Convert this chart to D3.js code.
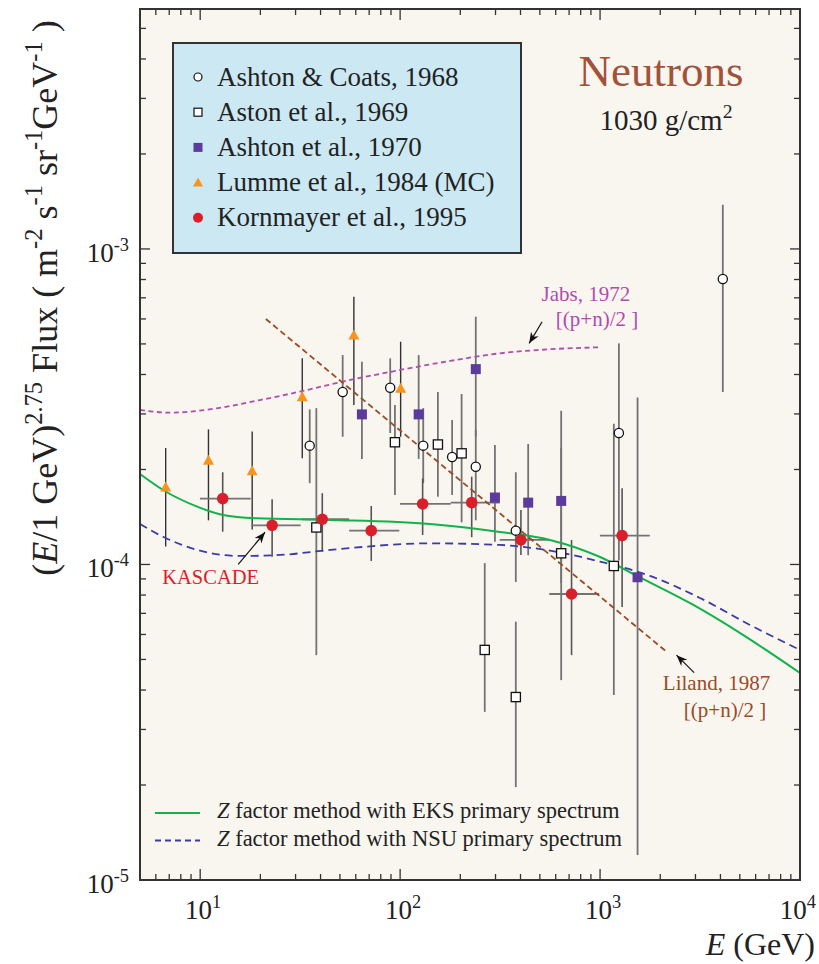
<!DOCTYPE html>
<html><head><meta charset="utf-8">
<script src="https://cdn.jsdelivr.net/npm/d3@7"></script>
<style>
body{margin:0;background:#fff;}
svg{display:block;}
</style>
</head><body>
<svg id="chart" width="819" height="964" font-family="'Liberation Serif','DejaVu Serif','Times New Roman',serif" style="white-space:pre"></svg>
<script>
// ---------------- DATA ----------------
// [E (GeV), flux, flux low, flux high]
const ashtonCoats1968 = [
  [35.3, 2.38e-4, 1.81e-4, 3.10e-4],
  [51.6, 3.52e-4, 2.54e-4, 4.61e-4],
  [89.2, 3.63e-4, 2.61e-4, 4.50e-4],
  [130.5, 2.38e-4, 1.81e-4, 3.13e-4],
  [182, 2.19e-4, 1.66e-4, 2.87e-4],
  [239, 2.04e-4, 1.38e-4, 2.67e-4],
  [379, 1.28e-4, 8.8e-5, 1.96e-4],
  [1242, 2.61e-4, 1.03e-4, 5.02e-4],
  [4111, 8.03e-4, 3.52e-4, 1.38e-3]
];
const aston1969 = [
  [38.1, 1.31e-4, 5.16e-5, 3.13e-4],
  [94.2, 2.44e-4, 1.66e-4, 3.20e-4],
  [154.5, 2.40e-4, 1.64e-4, 3.52e-4],
  [203, 2.25e-4, 1.36e-4, 3.47e-4],
  [265, 5.36e-5, 3.41e-5, 1.01e-4],
  [379, 3.80e-5, 1.97e-5, 6.59e-5],
  [639, 1.085e-4, 4.3e-5, 2.34e-4],
  [1172, 9.89e-5, 3.86e-5, 2.79e-4]
];
const ashton1970 = [
  [64.4, 2.99e-4, 2.16e-4, 4.39e-4],
  [123.8, 2.99e-4, 2.16e-4, 4.61e-4],
  [239, 4.16e-4, 2.54e-4, 6.10e-4],
  [298, 1.63e-4, 1.18e-4, 2.39e-4],
  [437, 1.57e-4, 1.07e-4, 2.41e-4],
  [639, 1.59e-4, 8.74e-5, 3.07e-4],
  [1540, 9.11e-5, 1.2e-5, 3.38e-4]
];
const lumme1984 = [
  [6.72, 1.76e-4, 1.14e-4, 2.34e-4],
  [11.0, 2.14e-4, 1.38e-4, 2.68e-4],
  [18.2, 1.98e-4, 1.29e-4, 2.64e-4],
  [32.4, 3.40e-4, 2.17e-4, 4.50e-4],
  [58.7, 5.34e-4, 3.20e-4, 7.06e-4],
  [100.6, 3.62e-4, 2.54e-4, 5.08e-4]
];
// [E, E low, E high, flux, flux low, flux high]
const kornmayer1995 = [
  [12.96, 9.98, 17.9, 1.617e-4, 1.27e-4, 1.96e-4],
  [22.9, 18.1, 31.8, 1.331e-4, 1.058e-4, 1.609e-4],
  [40.8, 32.2, 55.6, 1.391e-4, 1.098e-4, 1.682e-4],
  [71.7, 55.6, 99, 1.28e-4, 1.026e-4, 1.532e-4],
  [129.6, 99.8, 179, 1.555e-4, 1.24e-4, 1.875e-4],
  [228, 179, 315, 1.57e-4, 1.22e-4, 1.898e-4],
  [402, 315, 554, 1.196e-4, 1.072e-4, 1.488e-4],
  [720, 557, 990, 8.06e-5, 5.16e-5, 1.196e-4],
  [1289, 998, 1774, 1.235e-4, 7.33e-5, 1.744e-4]
];
// curves [E, flux]
const eksCurve = [[5,1.935e-4],[6.52,1.722e-4],[9.66,1.525e-4],[13.0,1.435e-4],[19.2,1.401e-4],[44.7,1.384e-4],[141,1.344e-4],[316,1.268e-4],[562,1.196e-4],[1000,1.056e-4],[1530,9.2e-5],[2930,7.44e-5],[5000,6.07e-5],[10000,4.53e-5]];
const nsuCurve = [[5,1.344e-4],[6.52,1.224e-4],[9.66,1.112e-4],[15.8,1.064e-4],[25.1,1.072e-4],[44.7,1.112e-4],[141,1.167e-4],[316,1.153e-4],[562,1.106e-4],[1000,1.021e-4],[1778,9.2e-5],[3162,7.83e-5],[5623,6.43e-5],[10000,5.36e-5]];
const jabsCurve = [[5,3.088e-4],[7.06,3.028e-4],[12.1,3.126e-4],[19.9,3.32e-4],[31.5,3.53e-4],[56.2,3.843e-4],[100,4.134e-4],[178,4.416e-4],[316,4.67e-4],[562,4.809e-4],[1000,4.88e-4]];
const lilandCurve = [[21.3,6.0e-4],[2157,5.28e-5]];

const xTickValues = [10, 100, 1000, 10000];
const xTickExponents = ["1","2","3","4"];
const yTickValues = [1e-5, 1e-4, 1e-3];
const yTickExponents = ["-5","-4","-3"];

const legendLabels = ["Ashton & Coats, 1968","Aston et al., 1969","Ashton et al., 1970","Lumme et al., 1984 (MC)","Kornmayer et al., 1995"];
const curveLabels = ["factor method with EKS primary spectrum","factor method with NSU primary spectrum"];

// annotation anchors in data units [E, flux]
const jabsText = [[510, 6.85e-4],[601, 5.70e-4]];
const jabsArrow = [[513, 5.88e-4],[442, 5.02e-4]];
const lilandText = [[2060, 4.0e-5],[2624, 3.285e-5]];
const lilandArrow = [[2954, 4.54e-5],[2413, 5.16e-5]];
const kascadeText = [6.46, 8.68e-5];
const kascadeArrow = [[15.5, 1.0e-4],[21.1, 1.265e-4]];

// ---------------- CHART ----------------
const svg = d3.select("#chart");
const L = 140, R = 800, T = 9, B = 880;
const x = d3.scaleLog().domain([5, 1e4]).range([L, R]);
const y = d3.scaleLog().domain([1e-5, 5.76e-3]).range([B, T]);

const C = {
  red:"#d81f2a", orange:"#f7941d", purple:"#5b3b9b", green:"#12b24b",
  blue:"#3b3ba6", jabs:"#b04cae", liland:"#9b4a26", title:"#a3523a",
  bar:"#737373", frame:"#333"
};

svg.append("defs").append("marker")
  .attr("id","ah").attr("viewBox","0 0 10 10").attr("refX",10).attr("refY",5)
  .attr("markerWidth",11).attr("markerHeight",11).attr("markerUnits","userSpaceOnUse")
  .attr("orient","auto")
  .append("path").attr("d","M0,1 L10,5 L0,9 L3,5 Z").attr("fill","#111");

svg.append("rect").attr("x",L).attr("y",T).attr("width",R-L).attr("height",B-T).attr("fill","#f9f6f0");

// ticks
const tg = svg.append("g").attr("stroke",C.frame).attr("stroke-width",1.3);
x.ticks().filter(v => v>=5 && v<=1e4).forEach(v => {
  const major = Math.abs(Math.log10(v)-Math.round(Math.log10(v)))<1e-9;
  const len = major ? 11 : 6;
  tg.append("line").attr("x1",x(v)).attr("x2",x(v)).attr("y1",B).attr("y2",B-len);
  tg.append("line").attr("x1",x(v)).attr("x2",x(v)).attr("y1",T).attr("y2",T+len);
});
y.ticks().forEach(v => {
  const major = Math.abs(Math.log10(v)-Math.round(Math.log10(v)))<1e-9;
  const len = major ? 10 : 6;
  tg.append("line").attr("x1",L).attr("x2",L+len).attr("y1",y(v)).attr("y2",y(v));
  tg.append("line").attr("x1",R).attr("x2",R-len).attr("y1",y(v)).attr("y2",y(v));
});

function rich(g, parts, size){
  const t = g.append("text").attr("font-size", size);
  let up = false;
  parts.forEach(p => {
    const ts = t.append("tspan").text(p.t);
    if (p.sup){ ts.attr("font-size", size*0.68); if(!up){ ts.attr("dy", -size*0.42); up = true; } }
    else if (up){ ts.attr("dy", size*0.42); up = false; }
    if (p.it) ts.attr("font-style","italic");
  });
  return t;
}

// tick labels
xTickValues.forEach((v,i) => {
  const t = rich(svg, [{t:"10"},{t:xTickExponents[i],sup:true}], 27)
    .attr("y", B+39).attr("fill","#222");
  if (i === xTickValues.length-1) t.attr("x", 816).attr("text-anchor","end");
  else t.attr("x", x(v)+3).attr("text-anchor","middle");
});
yTickValues.forEach((v,i) => {
  rich(svg, [{t:"10"},{t:yTickExponents[i],sup:true}], 27)
    .attr("x", L-11).attr("y", y(v)+13).attr("text-anchor","end").attr("fill","#222");
});

// axis titles
rich(svg, [{t:"("},{t:"E",it:true},{t:"/1 GeV)"},{t:"2.75",sup:true},{t:" Flux  ( m"},{t:"-2",sup:true},{t:" s"},{t:"-1",sup:true},{t:" sr"},{t:"-1",sup:true},{t:"GeV"},{t:"-1",sup:true},{t:" )"}], 36)
  .attr("text-anchor","middle").attr("transform","translate(57,298) rotate(-90)").attr("fill","#222");
rich(svg, [{t:"E",it:true},{t:" (GeV)"}], 32)
  .attr("x", 815).attr("y", 955).attr("text-anchor","end").attr("fill","#222");

const line = d3.line().x(d=>x(d[0])).y(d=>y(d[1])).curve(d3.curveMonotoneX);

// error bars
const eg = svg.append("g").attr("stroke-linecap","butt");
function vbars(data, color, w){
  data.forEach(d => eg.append("line").attr("x1",x(d[0])).attr("x2",x(d[0]))
    .attr("y1",y(d[2])).attr("y2",y(d[3])).attr("stroke",color).attr("stroke-width",w));
}
vbars(lumme1984, "#333", 1.4);
vbars(ashtonCoats1968, C.bar, 1.8);
vbars(aston1969, C.bar, 1.8);
vbars(ashton1970, C.bar, 1.8);
kornmayer1995.forEach(d => {
  eg.append("line").attr("x1",x(d[1])).attr("x2",x(d[2])).attr("y1",y(d[3])).attr("y2",y(d[3])).attr("stroke",C.bar).attr("stroke-width",1.8);
  eg.append("line").attr("x1",x(d[0])).attr("x2",x(d[0])).attr("y1",y(d[4])).attr("y2",y(d[5])).attr("stroke","#555").attr("stroke-width",1.6);
});

// curves
const cg = svg.append("g").attr("fill","none");
cg.append("path").datum(jabsCurve).attr("d",line).attr("stroke",C.jabs).attr("stroke-width",1.8).attr("stroke-dasharray","5,3.5");
cg.append("path").datum(lilandCurve).attr("d",line).attr("stroke",C.liland).attr("stroke-width",1.8).attr("stroke-dasharray","6,3.5");
cg.append("path").datum(nsuCurve).attr("d",line).attr("stroke",C.blue).attr("stroke-width",1.8).attr("stroke-dasharray","8,5");
cg.append("path").datum(eksCurve).attr("d",line).attr("stroke",C.green).attr("stroke-width",2);

// markers
const mg = svg.append("g");
const sym = {
  circle: (g,cx,cy) => g.append("circle").attr("cx",cx).attr("cy",cy).attr("r",4.6).attr("fill","#fff").attr("stroke","#111").attr("stroke-width",1.3),
  square: (g,cx,cy) => g.append("rect").attr("x",cx-4.6).attr("y",cy-4.6).attr("width",9.2).attr("height",9.2).attr("fill","#fff").attr("stroke","#111").attr("stroke-width",1.3),
  fsquare: (g,cx,cy) => g.append("rect").attr("x",cx-5).attr("y",cy-5).attr("width",10).attr("height",10).attr("fill",C.purple),
  tri: (g,cx,cy) => g.append("path").attr("d",`M${cx},${cy-5.5}L${cx+5.5},${cy+4.5}L${cx-5.5},${cy+4.5}Z`).attr("fill",C.orange),
  dot: (g,cx,cy) => g.append("circle").attr("cx",cx).attr("cy",cy).attr("r",5.8).attr("fill",C.red)
};
lumme1984.forEach(d => sym.tri(mg, x(d[0]), y(d[1])));
ashton1970.forEach(d => sym.fsquare(mg, x(d[0]), y(d[1])));
aston1969.forEach(d => sym.square(mg, x(d[0]), y(d[1])));
ashtonCoats1968.forEach(d => sym.circle(mg, x(d[0]), y(d[1])));
kornmayer1995.forEach(d => sym.dot(mg, x(d[0]), y(d[3])));

// frame
svg.append("rect").attr("x",L).attr("y",T).attr("width",R-L).attr("height",B-T).attr("fill","none").attr("stroke",C.frame).attr("stroke-width",2);

// top legend
const lg = svg.append("g");
lg.append("rect").attr("x",173).attr("y",43).attr("width",348).attr("height",210).attr("fill","#cce8f3").attr("stroke","#333").attr("stroke-width",2);
const legSyms = ["circle","square","fsquare","tri","dot"];
legendLabels.forEach((lab,i) => {
  const cy = 77 + i*35.2;
  const s = legSyms[i];
  if (s==="dot") lg.append("circle").attr("cx",198).attr("cy",cy).attr("r",5).attr("fill",C.red);
  else if (s==="tri") lg.append("path").attr("d",`M198,${cy-5}L203,${cy+4}L193,${cy+4}Z`).attr("fill",C.orange);
  else if (s==="fsquare") lg.append("rect").attr("x",193.5).attr("y",cy-4.5).attr("width",9).attr("height",9).attr("fill",C.purple);
  else if (s==="square") lg.append("rect").attr("x",194).attr("y",cy-4).attr("width",8).attr("height",8).attr("fill","#fff").attr("stroke","#111").attr("stroke-width",1.2);
  else lg.append("circle").attr("cx",198).attr("cy",cy).attr("r",4).attr("fill","#fff").attr("stroke","#111").attr("stroke-width",1.2);
  lg.append("text").attr("x",217).attr("y",cy+8.5).attr("font-size",27).attr("fill","#222").text(lab);
});

// title
svg.append("text").attr("x",661).attr("y",86).attr("text-anchor","middle").attr("font-size",45).attr("fill",C.title).text("Neutrons");
rich(svg, [{t:"1030 g/cm"},{t:"2",sup:true}], 29).attr("x",666).attr("y",130).attr("text-anchor","middle").attr("fill","#222");

// bottom legend
const bl = svg.append("g");
[[C.green,null],[C.blue,"6,4"]].forEach((st,i) => {
  const yy = 813 + i*27.5;
  const ln = bl.append("line").attr("x1",155).attr("x2",200).attr("y1",yy).attr("y2",yy).attr("stroke",st[0]).attr("stroke-width",2);
  if (st[1]) ln.attr("stroke-dasharray",st[1]);
  rich(bl, [{t:"Z",it:true},{t:" "+curveLabels[i]}], 22.5).attr("x",217).attr("y",yy+5).attr("fill","#222");
});

// annotations
const ag = svg.append("g");
function arrow(a){
  ag.append("line").attr("x1",x(a[0][0])).attr("y1",y(a[0][1])).attr("x2",x(a[1][0])).attr("y2",y(a[1][1]))
    .attr("stroke","#111").attr("stroke-width",1.2).attr("marker-end","url(#ah)");
}
arrow(jabsArrow); arrow(lilandArrow); arrow(kascadeArrow);
ag.append("text").attr("x",x(jabsText[0][0])).attr("y",y(jabsText[0][1])).attr("font-size",21).attr("fill",C.jabs).text("Jabs, 1972");
ag.append("text").attr("x",x(jabsText[1][0])).attr("y",y(jabsText[1][1])).attr("font-size",21).attr("fill",C.jabs).text("[(p+n)/2 ]");
ag.append("text").attr("x",x(lilandText[0][0])).attr("y",y(lilandText[0][1])).attr("font-size",21).attr("fill",C.liland).text("Liland, 1987");
ag.append("text").attr("x",x(lilandText[1][0])).attr("y",y(lilandText[1][1])).attr("font-size",21).attr("fill",C.liland).text("[(p+n)/2 ]");
ag.append("text").attr("x",x(kascadeText[0])).attr("y",y(kascadeText[1])).attr("font-size",20.5).attr("fill",C.red).text("KASCADE");
</script>
</body></html>
